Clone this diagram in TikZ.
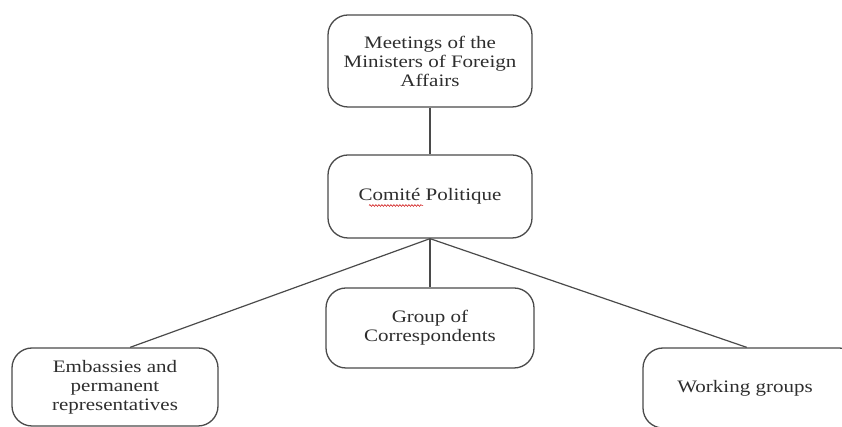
\documentclass[tikz,border=0pt]{standalone}
\usepackage{fontspec}
\setmainfont{Liberation Serif}
\newfontfamily\boxfont[FakeStretch=1.2]{Liberation Serif}
\usetikzlibrary{calc,decorations.pathmorphing}
\definecolor{boxline}{HTML}{4A4A4A}
\definecolor{txt}{HTML}{2E2E2E}
\begin{document}
\begin{tikzpicture}[x=1pt,y=1pt,
  orgbox/.style={draw=boxline, line width=1.3pt, rounded corners=20pt, fill=white,
    minimum width=204pt, align=center, text=txt,
    font=\boxfont\fontsize{17.5}{19}\selectfont},
  link/.style={draw=boxline, line width=1.2pt}]
\useasboundingbox (0,0) rectangle (842,427);
\clip (0,0) rectangle (842,427);
\node[orgbox, minimum height=92pt] (mfa) at (430,366) {Meetings of the\\Ministers of Foreign\\Affairs};
\node[orgbox, minimum height=83pt] (com) at (430,230.5) {Comité Politique};
\node[orgbox, minimum height=80pt, minimum width=208pt] (grp) at (430,99) {Group of\\Correspondents};
\node[orgbox, minimum height=78pt, minimum width=206pt] (emb) at (115,40) {Embassies and\\permanent\\representatives};
\node[orgbox, minimum height=80pt, minimum width=216pt] (wg) at (751,39) {Working groups\hspace*{12pt}};
\coordinate (embtop) at ($(emb.north west)!0.573!(emb.north east)$);
\coordinate (wgtop) at ($(wg.north west)!0.48!(wg.north east)$);
\draw[link] (mfa.south) -- (com.north);
\draw[link] (com.south) -- (grp.north);
\draw[link] (com.south) -- (embtop);
\draw[link] (com.south) -- (wgtop);
\draw[red!80!black, line width=0.5pt, decorate, decoration={snake, amplitude=0.9pt, segment length=3pt}]
  ($(com.center)+(-61,-9)$) -- ($(com.center)+(-7,-9)$);
\end{tikzpicture}
\end{document}
